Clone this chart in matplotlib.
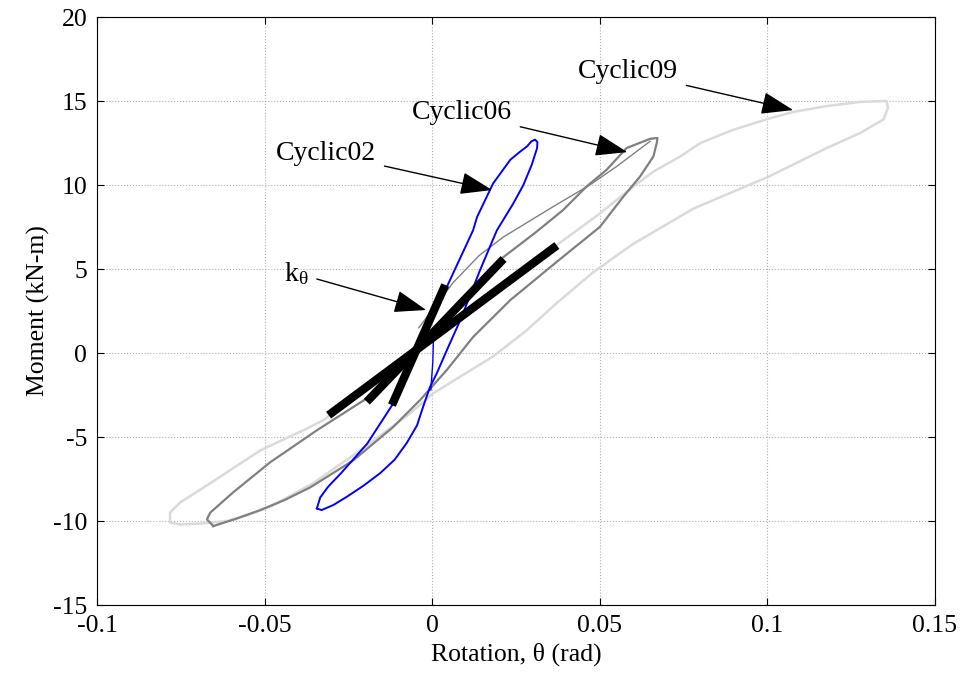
import matplotlib
matplotlib.use('Agg')
import matplotlib.pyplot as plt

# hysteresis loops (rotation in rad, moment in kN-m)
c02_theta = [-0.0344, -0.0330, -0.0295, -0.0254, -0.0205, -0.0155, -0.0112, -0.0076, -0.0045, -0.0027,
             -0.0006, 0.0014, 0.0044, 0.0084, 0.0143, 0.0193, 0.0242, 0.0272, 0.0297, 0.0313,
             0.0314, 0.0307, 0.0296, 0.0283, 0.0260, 0.0233, 0.0182, 0.0134, 0.0122, 0.0044,
             -0.0057, -0.0116, -0.0194, -0.0274, -0.0310, -0.0334, -0.0344]
c02_moment = [-9.25, -9.35, -9.05, -8.55, -7.9, -7.15, -6.35, -5.36, -4.3, -3.2,
              -2.0, -1.2, 0.18, 1.96, 4.94, 7.3, 8.9, 10.0, 11.2, 12.2,
              12.55, 12.7, 12.6, 12.3, 11.95, 11.5, 10.1, 8.1, 7.3, 3.95,
              -0.6, -3.0, -5.4, -7.2, -7.95, -8.6, -9.25]
c02_start_theta = [0.0004, 0.0002, -0.0004]
c02_start_moment = [1.0, -0.5, -2.2]

c06_theta = [-0.0653, -0.0590, -0.0513, -0.0440, -0.0364, -0.0236, -0.0116, -0.0036, 0.0044, 0.0122,
             0.0233, 0.037, 0.050, 0.057, 0.062, 0.066, 0.067, 0.0672, 0.065, 0.058,
             0.052, 0.046, 0.039, 0.031, 0.0212, 0.0084, 0.0, -0.0195, -0.0344, -0.0483,
             -0.0594, -0.0662, -0.0672, -0.0653]
c06_moment = [-10.3, -9.9, -9.35, -8.75, -8.0, -6.4, -4.4, -2.8, -1.0, 0.95,
              3.15, 5.4, 7.5, 9.3, 10.5, 11.7, 12.5, 12.8, 12.75, 12.2,
              10.9, 9.9, 8.5, 7.2, 5.7, 3.1, 1.2, -2.7, -4.6, -6.5,
              -8.3, -9.5, -9.9, -10.3]
c06_first_theta = [-0.004, 0.0063, 0.0140, 0.0212, 0.036, 0.047, 0.055, 0.061, 0.065]
c06_first_moment = [1.5, 4.2, 5.8, 6.9, 8.7, 10.0, 11.1, 12.0, 12.6]

c09_theta = [-0.0752, -0.0690, -0.0612, -0.0550, -0.0483, -0.0355, -0.0215, -0.0066, 0.0003, 0.0084,
             0.0182, 0.0283, 0.0373, 0.048, 0.060, 0.078, 0.1004, 0.1177, 0.1277, 0.1346,
             0.136, 0.1355, 0.1277, 0.1177, 0.1077, 0.1004, 0.090, 0.080, 0.074, 0.066,
             0.060, 0.050, 0.0377, 0.020, 0.0, -0.0325, -0.0374, -0.0513, -0.0662, -0.0752,
             -0.0782, -0.0782, -0.0752]
c09_moment = [-10.2, -10.15, -10.0, -9.65, -9.15, -7.75, -5.8, -3.6, -2.4, -1.4,
              -0.2, 1.37, 3.0, 4.8, 6.5, 8.6, 10.5, 12.2, 13.1, 13.9,
              14.6, 15.0, 14.95, 14.7, 14.35, 13.95, 13.3, 12.5, 11.7, 10.8,
              9.9, 8.3, 6.5, 3.85, 0.9, -4.0, -4.5, -5.8, -7.75, -8.9,
              -9.5, -10.1, -10.2]

# initial stiffness lines k_theta (end points)
k_theta = [(-0.0120, 0.0039), (-0.0195, 0.0213), (-0.0309, 0.0372)]
k_moment = [(-3.1, 4.05), (-2.9, 5.6), (-3.7, 6.4)]

labels = ['Cyclic09', 'Cyclic06', 'Cyclic02', r'$\mathregular{k_\theta}$']
label_pos = [(0.0585, 16.73), (0.0089, 14.29), (-0.0316, 11.9), (-0.0405, 4.75)]
arrow_tip = [(0.1077, 14.46), (0.0582, 11.96), (0.0179, 9.7), (-0.0018, 2.56)]

plt.rcParams['font.family'] = ['Liberation Serif', 'DejaVu Serif']
plt.rcParams['mathtext.fontset'] = 'custom'
plt.rcParams['mathtext.rm'] = 'Liberation Serif'
plt.rcParams['axes.unicode_minus'] = False

fig = plt.figure(figsize=(9.63, 6.81), dpi=100)
ax = fig.add_axes([0.1007, 0.1116, 0.8702, 0.8634])

ax.plot(c09_theta, c09_moment, color='#dadada', lw=1.8)
ax.plot(c06_theta, c06_moment, color='#808080', lw=1.6)
ax.plot(c06_first_theta, c06_first_moment, color='#808080', lw=1.0)
ax.plot(c02_theta, c02_moment, color='#0000ff', lw=1.4)
ax.plot(c02_start_theta, c02_start_moment, color='#0000ff', lw=1.0)

for xs, ys in zip(k_theta, k_moment):
    ax.plot(xs, ys, color='black', lw=6, solid_capstyle='butt')

for txt, pos, tip in zip(labels, label_pos, arrow_tip):
    ax.annotate(txt, xy=tip, xytext=pos, ha='center', va='center', fontsize=20,
                arrowprops=dict(arrowstyle='-|>,head_length=1.0,head_width=0.35',
                                color='black', lw=1.0, mutation_scale=20,
                                shrinkA=4, shrinkB=0))

ax.set_xlim(-0.1, 0.15)
ax.set_ylim(-15, 20)
ax.set_xticks([-0.1, -0.05, 0, 0.05, 0.1, 0.15])
ax.set_xticklabels(['-0.1', '-0.05', '0', '0.05', '0.1', '0.15'])
ax.set_yticks(range(-15, 21, 5))
ax.grid(True, linestyle=':', color='#b0b0b0', lw=0.8)
ax.tick_params(direction='in', length=5, top=True, right=True, labelsize=18.5, pad=7)
ax.set_xlabel('Rotation, θ (rad)', fontsize=18.5, labelpad=4)
ax.set_ylabel('Moment (kN-m)', fontsize=18.5, labelpad=2)

fig.savefig('out.png', dpi=100)
